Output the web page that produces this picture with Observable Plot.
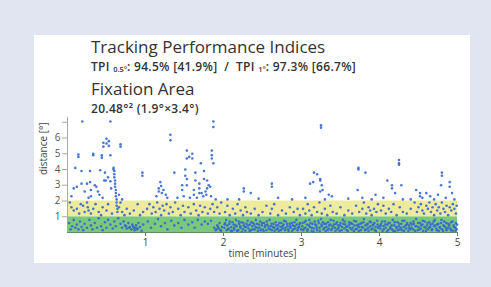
<!DOCTYPE html>
<html>
<head>
<meta charset="utf-8">
<script src="https://cdn.jsdelivr.net/npm/d3@7"></script>
<script src="https://cdn.jsdelivr.net/npm/@observablehq/plot@0.6"></script>
<style>
  html, body { margin: 0; padding: 0; }
  body { width: 491px; height: 287px; background: #e1e5f1; position: relative; overflow: hidden; font-family: "Open Sans", sans-serif; color: #333; }
  #panel { position: absolute; left: 34px; top: 35px; width: 436px; height: 228px; background: #fff; }
  .t { position: absolute; left: 91px; line-height: 1; white-space: nowrap; }
  .big { font-size: 17px; color: #333; }
  .small { font-size: 12px; font-weight: 600; color: #333; letter-spacing: 0.3px; }
  sub { font-size: 7.5px; vertical-align: -1px; letter-spacing: 0; }
  #chart { position: absolute; left: 34px; top: 112px; }
</style>
</head>
<body>
<div id="panel"></div>
<div class="t big" id="title" style="top:38px">Tracking Performance Indices</div>
<div class="t small" id="sub1" style="top:60.5px">TPI <sub>0.5°</sub>: 94.5% [41.9%]&nbsp; / &nbsp;TPI <sub>1°</sub>: 97.3% [66.7%]</div>
<div class="t big" id="title2" style="top:80px">Fixation Area</div>
<div class="t small" id="sub2" style="top:102.5px">20.48°² (1.9°×3.4°)</div>
<div id="chart"></div>
<script>
// tick labels
const xTicks = [1, 2, 3, 4, 5];
const yTicks = [1, 2, 3, 4, 5, 6, 7];
const yTickLabels = ["1", "2", "3", "4", "5", "6", ""];
// zones (degrees)
const zoneLower = [0, 1];
const zoneUpper = [1, 2];
const zoneName = ["within 1°", "within 2°"];

// samples: flat pairs [time (min), distance (°)]
const minute0 = [
  0.19,7.05, 0.55,7.05,
  0.14,4.95, 0.14,4.8, 0.33,5.0, 0.33,4.9, 0.44,4.9, 0.44,4.75, 0.46,5.7, 0.46,5.45, 0.50,5.95, 0.50,5.65,
  0.53,5.8, 0.53,5.5, 0.55,4.9, 0.68,5.6, 0.68,5.45,
  0.10,4.1, 0.18,3.9, 0.29,3.9, 0.42,3.95, 0.48,3.8, 0.49,3.3, 0.55,3.25, 0.52,3.5, 0.47,3.3,
  0.59,4.1, 0.59,4.0, 0.60,3.9, 0.60,3.7, 0.60,3.5, 0.61,3.3, 0.61,3.1, 0.61,2.9, 0.62,2.7, 0.62,2.5,
  0.62,2.3, 0.63,2.1, 0.63,1.9, 0.63,1.7, 0.64,1.5, 0.64,1.3,
  0.08,2.8, 0.12,2.9, 0.18,3.1, 0.25,3.1, 0.29,3.2, 0.30,2.7, 0.37,2.9, 0.39,2.6, 0.30,2.3, 0.27,2.2,
  0.22,2.6, 0.05,2.3, 0.35,3.0, 0.41,2.4, 0.45,2.2, 0.56,2.8, 0.66,2.4, 0.70,2.1, 0.96,3.8, 0.96,3.6,
  0.03,1.9, 0.05,1.6, 0.08,1.4, 0.12,1.5, 0.15,1.2, 0.20,1.7, 0.22,1.3, 0.25,1.9, 0.26,1.6, 0.27,1.4,
  0.30,1.2, 0.33,1.5, 0.36,1.8, 0.40,1.3, 0.45,1.6, 0.50,1.4, 0.52,1.8, 0.57,1.2, 0.66,1.6, 0.70,1.3,
  0.73,1.1, 0.76,1.5, 0.80,1.2, 0.85,1.4, 0.90,1.8, 0.93,1.1, 0.97,1.3, 0.17,1.8, 0.43,1.1, 0.68,1.9,
  0.02,0.6, 0.04,0.2, 0.06,0.4, 0.08,0.8, 0.10,0.3, 0.12,0.5, 0.14,0.2, 0.16,0.7, 0.18,0.35, 0.20,0.15,
  0.22,0.55, 0.25,0.3, 0.28,0.8, 0.30,0.45, 0.32,0.2, 0.35,0.6, 0.38,0.3, 0.40,0.9, 0.43,0.4, 0.45,0.15,
  0.48,0.65, 0.50,0.3, 0.52,0.8, 0.55,0.5, 0.58,0.25, 0.60,0.7, 0.62,0.4, 0.65,0.9, 0.68,0.55, 0.70,0.3,
  0.72,0.7, 0.74,0.45, 0.76,0.25, 0.78,0.6, 0.80,0.35, 0.82,0.2, 0.83,0.5, 0.85,0.3, 0.86,0.15, 0.88,0.45,
  0.90,0.25, 0.91,0.6, 0.93,0.35, 0.95,0.1, 0.97,0.5, 0.75,0.4, 0.79,0.3, 0.84,0.4, 0.87,0.3, 0.89,0.2
];
const minute1 = [
  1.17,2.8, 1.17,2.6, 1.19,3.2, 1.21,2.5, 1.23,2.7, 1.26,2.4, 1.14,2.3, 1.20,2.95, 1.28,2.2, 1.32,6.2,
  1.32,5.85, 1.37,3.8, 1.41,2.2, 1.47,3.0, 1.47,2.7, 1.51,4.0, 1.51,3.6, 1.53,5.2, 1.53,4.7, 1.53,3.4,
  1.53,3.0, 1.56,4.8, 1.60,5.0, 1.60,4.7, 1.62,2.7, 1.62,2.4, 1.64,3.8, 1.64,3.3, 1.69,3.1, 1.69,2.8,
  1.69,2.5, 1.71,4.4, 1.72,2.5, 1.75,3.9, 1.75,3.4, 1.77,2.6, 1.79,3.3, 1.79,2.8, 1.81,3.0, 1.83,2.9,
  1.85,5.2, 1.85,4.9, 1.85,4.7, 1.87,4.4, 1.87,7.05, 1.87,6.7, 1.57,2.2, 1.66,2.2, 1.74,2.3, 1.78,2.4,
  1.84,2.3, 1.49,2.3, 1.90,2.1,
  1.02,1.5, 1.05,1.8, 1.08,1.2, 1.10,1.6, 1.13,1.3, 1.15,1.9, 1.18,1.5, 1.20,1.1, 1.22,1.7, 1.24,1.4,
  1.27,1.8, 1.30,1.2, 1.32,1.6, 1.35,1.3, 1.38,1.9, 1.42,1.5, 1.45,1.1, 1.48,1.7, 1.50,1.3, 1.55,1.6,
  1.58,1.2, 1.62,1.8, 1.65,1.4, 1.68,1.1, 1.70,1.7, 1.73,1.3, 1.76,1.6, 1.80,1.2, 1.83,1.5, 1.86,1.8,
  1.88,1.3, 1.92,1.6, 1.95,1.2, 1.97,1.9,
  1.03,0.7, 1.07,0.3, 1.12,0.55, 1.16,0.85, 1.20,0.4, 1.25,0.6, 1.28,0.2, 1.33,0.75, 1.37,0.45, 1.42,0.6,
  1.46,0.3, 1.50,0.8, 1.55,0.5, 1.60,0.65, 1.63,0.3, 1.67,0.8, 1.72,0.5, 1.76,0.7, 1.80,0.55, 1.84,0.75,
  1.88,0.3, 1.90,0.15, 1.92,0.45, 1.94,0.25, 1.95,0.6, 1.97,0.1, 1.98,0.35, 1.91,0.2, 1.93,0.35, 1.96,0.15
];
const minute2 = [
  2.26,2.8, 2.26,2.6, 2.35,2.5, 2.62,3.1, 2.62,2.9, 2.05,2.1, 2.20,2.1, 2.45,2.15, 2.70,2.2, 2.88,2.1,
  2.02,1.3, 2.05,1.7, 2.08,1.1, 2.12,1.5, 2.15,1.2, 2.18,1.8, 2.22,1.4, 2.25,1.1, 2.28,1.6, 2.30,1.3,
  2.35,1.2, 2.40,1.5, 2.45,1.1, 2.50,1.3, 2.55,1.7, 2.60,1.2, 2.62,1.5, 2.65,1.8, 2.70,1.1, 2.75,1.4,
  2.80,1.2, 2.85,1.6, 2.90,1.3, 2.95,1.5, 2.98,1.1,
  2.01,0.3, 2.02,0.6, 2.04,0.15, 2.05,0.45, 2.07,0.25, 2.08,0.7, 2.10,0.35, 2.11,0.1, 2.13,0.5, 2.14,0.2,
  2.16,0.8, 2.17,0.4, 2.19,0.15, 2.20,0.55, 2.22,0.3, 2.23,0.65, 2.25,0.2, 2.26,0.45, 2.28,0.1, 2.29,0.35,
  2.31,0.75, 2.32,0.25, 2.34,0.5, 2.35,0.15, 2.37,0.4, 2.38,0.6, 2.40,0.2, 2.41,0.35, 2.43,0.55, 2.44,0.1,
  2.46,0.3, 2.47,0.7, 2.49,0.45, 2.50,0.2, 2.52,0.6, 2.53,0.35, 2.55,0.15, 2.56,0.5, 2.58,0.25, 2.59,0.8,
  2.61,0.4, 2.62,0.15, 2.64,0.55, 2.65,0.3, 2.67,0.65, 2.68,0.2, 2.70,0.45, 2.71,0.1, 2.73,0.35, 2.74,0.6,
  2.76,0.25, 2.77,0.5, 2.79,0.15, 2.80,0.7, 2.82,0.4, 2.83,0.2, 2.85,0.55, 2.86,0.3, 2.88,0.1, 2.89,0.45,
  2.91,0.65, 2.92,0.25, 2.94,0.5, 2.95,0.15, 2.97,0.35, 2.98,0.6,
  2.015,0.5, 2.035,0.8, 2.055,0.2, 2.075,0.55, 2.095,0.1, 2.115,0.65, 2.135,0.3, 2.155,0.45, 2.175,0.1, 2.195,0.7,
  2.215,0.4, 2.235,0.05, 2.255,0.6, 2.275,0.35, 2.295,0.55, 2.315,0.45, 2.335,0.1, 2.355,0.65, 2.375,0.2, 2.395,0.5,
  2.415,0.8, 2.435,0.3, 2.455,0.5, 2.475,0.15, 2.495,0.6, 2.515,0.1, 2.535,0.45, 2.555,0.7, 2.575,0.4, 2.595,0.2,
  2.615,0.55, 2.635,0.35, 2.655,0.1, 2.675,0.45, 2.695,0.25, 2.715,0.6, 2.735,0.15, 2.755,0.4, 2.775,0.75, 2.795,0.3,
  2.815,0.55, 2.835,0.1, 2.855,0.4, 2.875,0.6, 2.895,0.2, 2.915,0.4, 2.935,0.8, 2.955,0.3, 2.975,0.5, 2.995,0.2
];
const minute3 = [
  3.25,6.8, 3.25,6.65, 3.11,3.1, 3.15,3.2, 3.16,3.8, 3.20,3.7, 3.24,3.4, 3.24,3.3, 3.26,3.0, 3.24,2.6,
  3.27,2.7, 3.35,2.4, 3.39,2.3, 3.73,4.1, 3.73,4.0, 3.82,3.8, 3.72,2.7, 3.95,2.4, 3.05,2.2, 3.30,2.1,
  3.60,2.15, 3.78,2.2, 3.90,2.1,
  3.02,1.5, 3.05,1.2, 3.08,1.8, 3.10,1.4, 3.13,1.1, 3.16,1.6, 3.20,1.3, 3.23,1.9, 3.26,1.2, 3.30,1.5,
  3.33,1.1, 3.37,1.7, 3.40,1.3, 3.45,1.2, 3.50,1.6, 3.55,1.1, 3.60,1.4, 3.65,1.2, 3.70,1.7, 3.74,1.3,
  3.78,1.5, 3.80,1.9, 3.83,1.2, 3.86,1.6, 3.88,1.4, 3.90,1.1, 3.93,1.5, 3.96,1.3, 3.98,1.8,
  3.01,0.4, 3.02,0.15, 3.04,0.65, 3.05,0.3, 3.07,0.5, 3.08,0.2, 3.10,0.8, 3.11,0.35, 3.13,0.1, 3.14,0.55,
  3.16,0.25, 3.17,0.7, 3.19,0.45, 3.20,0.15, 3.22,0.6, 3.23,0.3, 3.25,0.85, 3.26,0.4, 3.28,0.2, 3.29,0.55,
  3.31,0.1, 3.32,0.35, 3.34,0.65, 3.35,0.25, 3.37,0.5, 3.38,0.15, 3.40,0.4, 3.41,0.75, 3.43,0.3, 3.44,0.55,
  3.46,0.2, 3.47,0.45, 3.49,0.1, 3.50,0.6, 3.52,0.35, 3.53,0.8, 3.55,0.25, 3.56,0.5, 3.58,0.15, 3.59,0.4,
  3.61,0.65, 3.62,0.3, 3.64,0.2, 3.65,0.55, 3.67,0.1, 3.68,0.45, 3.70,0.7, 3.71,0.25, 3.73,0.5, 3.74,0.35,
  3.76,0.15, 3.77,0.6, 3.79,0.3, 3.80,0.85, 3.82,0.45, 3.83,0.2, 3.85,0.55, 3.86,0.1, 3.88,0.4, 3.89,0.65,
  3.91,0.25, 3.92,0.5, 3.94,0.15, 3.95,0.35, 3.97,0.75, 3.98,0.3,
  3.015,0.6, 3.035,0.25, 3.055,0.75, 3.075,0.1, 3.095,0.45, 3.115,0.6, 3.135,0.3, 3.155,0.05, 3.175,0.5, 3.195,0.3,
  3.215,0.75, 3.235,0.1, 3.255,0.5, 3.275,0.65, 3.295,0.3, 3.315,0.55, 3.335,0.15, 3.355,0.45, 3.375,0.8, 3.395,0.25,
  3.415,0.5, 3.435,0.1, 3.455,0.65, 3.475,0.3, 3.495,0.45, 3.515,0.15, 3.535,0.55, 3.555,0.7, 3.575,0.35, 3.595,0.1,
  3.615,0.5, 3.635,0.6, 3.655,0.3, 3.675,0.75, 3.695,0.2, 3.715,0.45, 3.735,0.1, 3.755,0.55, 3.775,0.35, 3.795,0.65,
  3.815,0.15, 3.835,0.5, 3.855,0.3, 3.875,0.7, 3.895,0.2, 3.915,0.45, 3.935,0.6, 3.955,0.1, 3.975,0.5, 3.995,0.4
];
const minute4 = [
  4.10,3.3, 4.16,3.0, 4.16,2.8, 4.25,4.6, 4.25,4.4, 4.25,4.3, 4.20,2.5, 4.28,3.0, 4.30,2.1, 4.47,2.7,
  4.52,2.5, 4.52,2.3, 4.60,2.5, 4.80,3.8, 4.80,3.6, 4.90,3.2, 4.90,2.9, 4.79,3.0, 4.75,2.4, 4.93,2.5,
  4.96,2.1, 4.55,2.2, 4.65,2.3, 4.70,2.1, 4.85,2.2, 4.40,2.1, 4.05,2.2,
  4.02,1.4, 4.05,1.7, 4.08,1.2, 4.12,1.5, 4.15,1.3, 4.18,1.8, 4.22,1.1, 4.26,1.6, 4.30,1.3, 4.35,1.2,
  4.40,1.5, 4.45,1.9, 4.48,1.3, 4.50,1.6, 4.53,1.8, 4.55,1.4, 4.57,1.2, 4.60,1.7, 4.62,1.5, 4.64,1.9,
  4.66,1.3, 4.68,1.6, 4.70,1.1, 4.72,1.8, 4.74,1.4, 4.76,1.6, 4.78,1.2, 4.80,1.9, 4.82,1.5, 4.84,1.3,
  4.86,1.7, 4.88,1.1, 4.90,1.6, 4.92,1.4, 4.94,1.8, 4.96,1.5, 4.98,1.2, 4.99,1.7,
  4.01,0.25, 4.02,0.55, 4.04,0.1, 4.05,0.4, 4.07,0.7, 4.08,0.3, 4.10,0.5, 4.11,0.15, 4.13,0.6, 4.14,0.35,
  4.16,0.2, 4.17,0.8, 4.19,0.45, 4.20,0.1, 4.22,0.3, 4.23,0.65, 4.25,0.4, 4.26,0.2, 4.28,0.55, 4.29,0.15,
  4.31,0.35, 4.32,0.75, 4.34,0.25, 4.35,0.5, 4.37,0.1, 4.38,0.45, 4.40,0.6, 4.41,0.3, 4.43,0.2, 4.44,0.55,
  4.46,0.4, 4.47,0.85, 4.49,0.15, 4.50,0.35, 4.52,0.6, 4.53,0.25, 4.55,0.5, 4.56,0.1, 4.58,0.7, 4.59,0.3,
  4.61,0.45, 4.62,0.2, 4.64,0.65, 4.65,0.35, 4.67,0.15, 4.68,0.55, 4.70,0.4, 4.71,0.8, 4.73,0.25, 4.74,0.5,
  4.76,0.1, 4.77,0.35, 4.79,0.6, 4.80,0.2, 4.82,0.45, 4.83,0.7, 4.85,0.3, 4.86,0.15, 4.88,0.55, 4.89,0.4,
  4.91,0.25, 4.92,0.65, 4.94,0.1, 4.95,0.45, 4.97,0.3, 4.98,0.6, 4.99,0.2,
  4.015,0.45, 4.035,0.7, 4.055,0.2, 4.075,0.5, 4.095,0.05, 4.115,0.6, 4.135,0.25, 4.155,0.45, 4.175,0.1, 4.195,0.65,
  4.215,0.35, 4.235,0.15, 4.255,0.55, 4.275,0.3, 4.295,0.75, 4.315,0.1, 4.335,0.45, 4.355,0.6, 4.375,0.3, 4.395,0.2,
  4.415,0.5, 4.435,0.7, 4.455,0.1, 4.475,0.4, 4.495,0.6, 4.515,0.2, 4.535,0.45, 4.555,0.75, 4.575,0.35, 4.595,0.1,
  4.615,0.6, 4.635,0.3, 4.655,0.5, 4.675,0.2, 4.695,0.7, 4.715,0.45, 4.735,0.15, 4.755,0.55, 4.775,0.3, 4.795,0.8,
  4.815,0.1, 4.835,0.4, 4.855,0.6, 4.875,0.25, 4.895,0.5, 4.915,0.15, 4.935,0.7, 4.955,0.35, 4.975,0.1, 4.995,0.5
];

function pairs(arr) {
  const out = [];
  for (let i = 0; i + 1 < arr.length; i += 2) out.push({t: arr[i], d: arr[i + 1]});
  return out;
}
const samples = [minute0, minute1, minute2, minute3, minute4].flatMap(pairs);
const zones = zoneLower.map((lo, i) => ({lo, hi: zoneUpper[i], name: zoneName[i]}));
const yFmt = d => yTickLabels[yTicks.indexOf(d)];

const chart = Plot.plot({
  width: 436,
  height: 150,
  marginLeft: 33,
  marginRight: 13,
  marginTop: 5,
  marginBottom: 30,
  style: {fontFamily: "Open Sans, sans-serif", fontSize: "10px", color: "#444", background: "transparent"},
  x: {domain: [0, 5], label: null},
  y: {domain: [0, 7.3], label: null},
  color: {domain: zoneName, range: ["#7cc77e", "#eeea9e"]},
  marks: [
    Plot.rectY(zones, {x1: 0, x2: 5, y1: "lo", y2: "hi", fill: "name"}),
    Plot.ruleY([0], {stroke: "#5f8f5f", strokeWidth: 1}),
    Plot.ruleX([0], {y1: 0, y2: 7.3, stroke: "#aaa"}),
    Plot.dot(samples, {x: "t", y: "d", r: 1.3, fill: "#3468cf", fillOpacity: 0.9}),
    Plot.axisX({ticks: xTicks, tickSize: 4, stroke: "#777", fill: "#444", tickPadding: 2, tickFormat: d3.format("d"), label: null}),
    Plot.axisY({ticks: yTicks, tickSize: 5, stroke: "#aaa", fill: "#555", tickPadding: 2, tickFormat: yFmt, label: null}),
    Plot.text(["time [minutes]"], {frameAnchor: "bottom", dy: 24, fill: "#444", fontSize: 10}),
    Plot.text(["distance [°]"], {frameAnchor: "left", dx: -24, rotate: -90, fill: "#444", fontSize: 10})
  ]
});
document.getElementById("chart").appendChild(chart);
</script>
</body>
</html>
